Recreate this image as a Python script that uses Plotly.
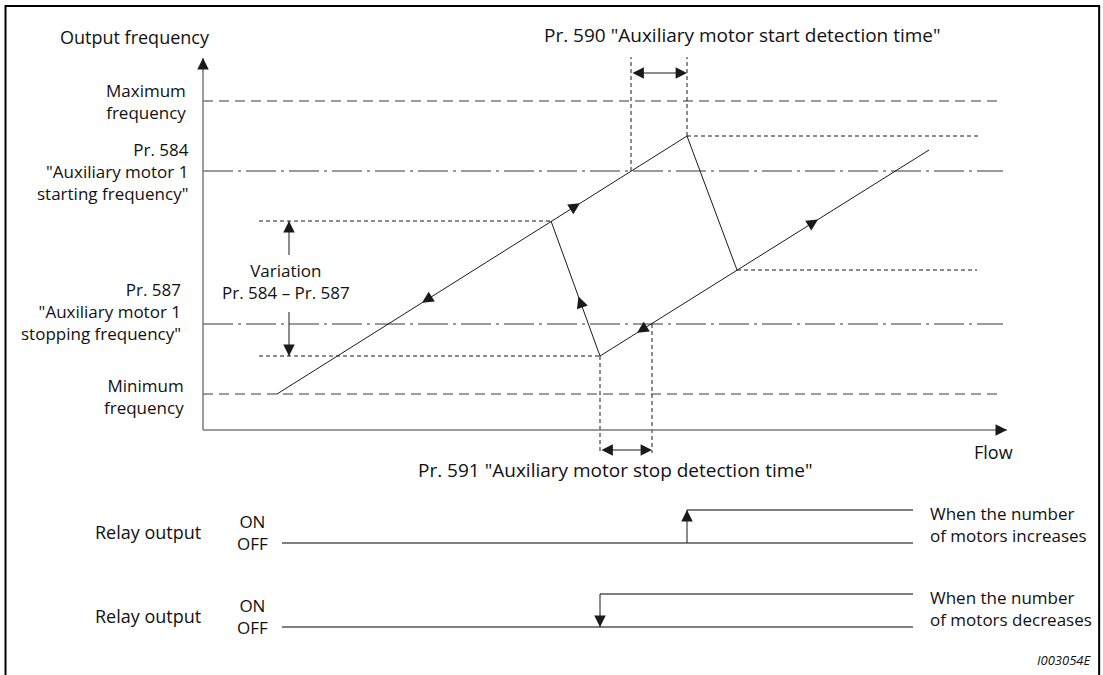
import math
import plotly.graph_objects as go

# Frequency levels (diagram units above the flow axis)
f_max = 329
f_start = 259      # Pr. 584
f_stop = 106       # Pr. 587
f_min = 36
f_high = 209       # top of variation band
f_low = 74         # bottom of variation band
f_peak = 294
f_knee = 160
f_axis_top = 372

# Flow positions of the hysteresis path
upper_x = [74, 348, 484]
upper_y = [f_min, f_high, f_peak]
lower_x = [397, 534, 726]
lower_y = [f_low, f_knee, 280]
flow_start_det = [428, 484]   # Pr. 590 interval
flow_stop_det = [397, 449]    # Pr. 591 interval
flow_axis_end = 804
level_end = 800
variation_x = 86

# Relay timing
relay_off = [-113, -197]
relay_on = [-80, -164]
relay_switch = [484, 397]
relay_begin = 79
relay_end = 710

GRAY = "#7a7a7a"
DARK = "#1a1a1a"
FONT = "Open Sans"
FS = 18

fig = go.Figure()


def seg(xs, ys, color=DARK, width=1, dash="solid"):
    fig.add_trace(go.Scatter(x=xs, y=ys, mode="lines", hoverinfo="skip",
                             line=dict(color=color, width=width, dash=dash)))


def arrow(x, y, dx, dy, length=10, color=DARK):
    n = math.hypot(dx, dy)
    ax = x - dx / n * length
    ay = y - dy / n * length
    fig.add_annotation(x=x, y=y, ax=ax, ay=ay, xref="x", yref="y", axref="x", ayref="y",
                       text="", showarrow=True, arrowhead=2, arrowsize=2.3, arrowwidth=1,
                       arrowcolor=color, standoff=0)


def darrow(x0, x1, y):
    fig.add_annotation(x=x1, y=y, ax=x0, ay=y, xref="x", yref="y", axref="x", ayref="y",
                       text="", showarrow=True, arrowhead=2, arrowside="end+start",
                       arrowsize=1.9, arrowwidth=1.2, arrowcolor=DARK, standoff=0, startstandoff=0)


# reference levels
seg([0, level_end], [f_max, f_max], GRAY, 1.5, "10px,6px")
seg([0, level_end], [f_min, f_min], GRAY, 1.5, "10px,6px")
seg([0, level_end], [f_start, f_start], GRAY, 1.5, "30px,5px,3px,5px")
seg([0, level_end], [f_stop, f_stop], GRAY, 1.5, "30px,5px,3px,5px")

# dotted helper lines
DOT = "4px,3px"
seg([56, upper_x[1]], [f_high, f_high], DARK, 1, DOT)
seg([56, lower_x[0]], [f_low, f_low], DARK, 1, DOT)
seg([upper_x[2], 776], [f_peak, f_peak], DARK, 1, DOT)
seg([lower_x[1], 774], [f_knee, f_knee], DARK, 1, DOT)
seg([flow_start_det[0]] * 2, [f_start, 373], DARK, 1, DOT)
seg([flow_start_det[1]] * 2, [f_peak, 373], DARK, 1, DOT)
seg([flow_stop_det[0]] * 2, [f_low, -23], DARK, 1, DOT)
seg([flow_stop_det[1]] * 2, [f_stop, -23], DARK, 1, DOT)

# axes
seg([0, 0], [0, f_axis_top], GRAY, 1.5)
seg([0, flow_axis_end], [0, 0], GRAY, 1.5)
arrow(0, f_axis_top, 0, 1, 8)
arrow(flow_axis_end, 0, 1, 0, 8)

# hysteresis path
seg(upper_x, upper_y)
seg(lower_x, lower_y)
seg([upper_x[1], lower_x[0]], [upper_y[1], lower_y[0]])
seg([upper_x[2], lower_x[1]], [upper_y[2], lower_y[1]])

su = (upper_y[2] - upper_y[0]) / (upper_x[2] - upper_x[0])
sl = (lower_y[2] - lower_y[0]) / (lower_x[2] - lower_x[0])
arrow(377, upper_y[0] + su * (377 - upper_x[0]), 1, su)
arrow(219, upper_y[0] + su * (219 - upper_x[0]), -1, -su)
arrow(434, lower_y[0] + sl * (434 - lower_x[0]), -1, -sl)
arrow(615, lower_y[0] + sl * (615 - lower_x[0]), 1, sl)
cx, cy = upper_x[1] - lower_x[0], upper_y[1] - lower_y[0]
arrow(lower_x[0] + cx * 0.44, lower_y[0] + cy * 0.44, cx, cy)

# variation arrows
seg([variation_x] * 2, [175, f_high])
arrow(variation_x, f_high, 0, 1)
seg([variation_x] * 2, [118, f_low])
arrow(variation_x, f_low, 0, -1)

# detection time arrows
darrow(flow_start_det[0], flow_start_det[1], 357)
darrow(flow_stop_det[0], flow_stop_det[1], -20)

# relay outputs
for i in range(2):
    seg([relay_begin, relay_end], [relay_off[i], relay_off[i]], "#555555", 1.5)
    seg([relay_switch[i], relay_end], [relay_on[i], relay_on[i]], "#555555", 1.5)
seg([relay_switch[0]] * 2, [relay_off[0], relay_on[0]])
arrow(relay_switch[0], relay_on[0], 0, 1)
seg([relay_switch[1]] * 2, [relay_on[1], relay_off[1]])
arrow(relay_switch[1], relay_off[1], 0, -1)


def label(x, y, text, xa="center", size=FS, italic=False):
    fig.add_annotation(x=x, y=y, xref="x", yref="y", text=text, showarrow=False,
                       xanchor=xa, yanchor="middle", align=xa if xa != "center" else "center",
                       font=dict(family=FONT, size=size, color="#111111",
                                 style="italic" if italic else "normal"))


label(-68, 393, "Output frequency")
label(-15, 329, "Maximum<br>frequency", "right", size=17)
label(-12, 259, "Pr. 584<br>\"Auxiliary motor 1<br>starting frequency\"", "right", size=17)
label(83, 149, "Variation<br>Pr. 584 \u2013 Pr. 587", size=17)
label(-20, 119, "Pr. 587<br>\"Auxiliary motor 1<br>stopping frequency\"", "right", size=17)
label(-17, 34, "Minimum<br>frequency", "right", size=17)
label(339, 395, "Pr. 590 \"Auxiliary motor start detection time\"", "left", size=19)
label(790, -22, "Flow")
label(213, -40, "Pr. 591 \"Auxiliary motor stop detection time\"", "left", size=19)
for i, txt in enumerate(["When the number<br>of motors increases",
                         "When the number<br>of motors decreases"]):
    label(0, relay_off[i] + 11, "Relay output", "right")
    label(49, relay_off[i] + 11, "ON<br>OFF", size=17)
    label(725, relay_on[i] - 14, txt, "left", size=17)
label(890, -230, "I003054E", "right", size=13, italic=True)

# frame
fig.add_shape(type="path", path="M 0.005,-0.1 L 0.005,0.991 L 0.9965,0.991 L 0.9965,-0.1",
              xref="paper", yref="paper", line=dict(color="black", width=2))

fig.update_layout(width=1103, height=675, margin=dict(l=0, r=0, t=0, b=0),
                  plot_bgcolor="white", paper_bgcolor="white", showlegend=False,
                  xaxis=dict(range=[-203, 900], visible=False, fixedrange=True),
                  yaxis=dict(range=[-245, 430], visible=False, fixedrange=True))
fig.write_html("out.html", config={"displayModeBar": False},
               post_script="document.body.style.margin='0px';")
